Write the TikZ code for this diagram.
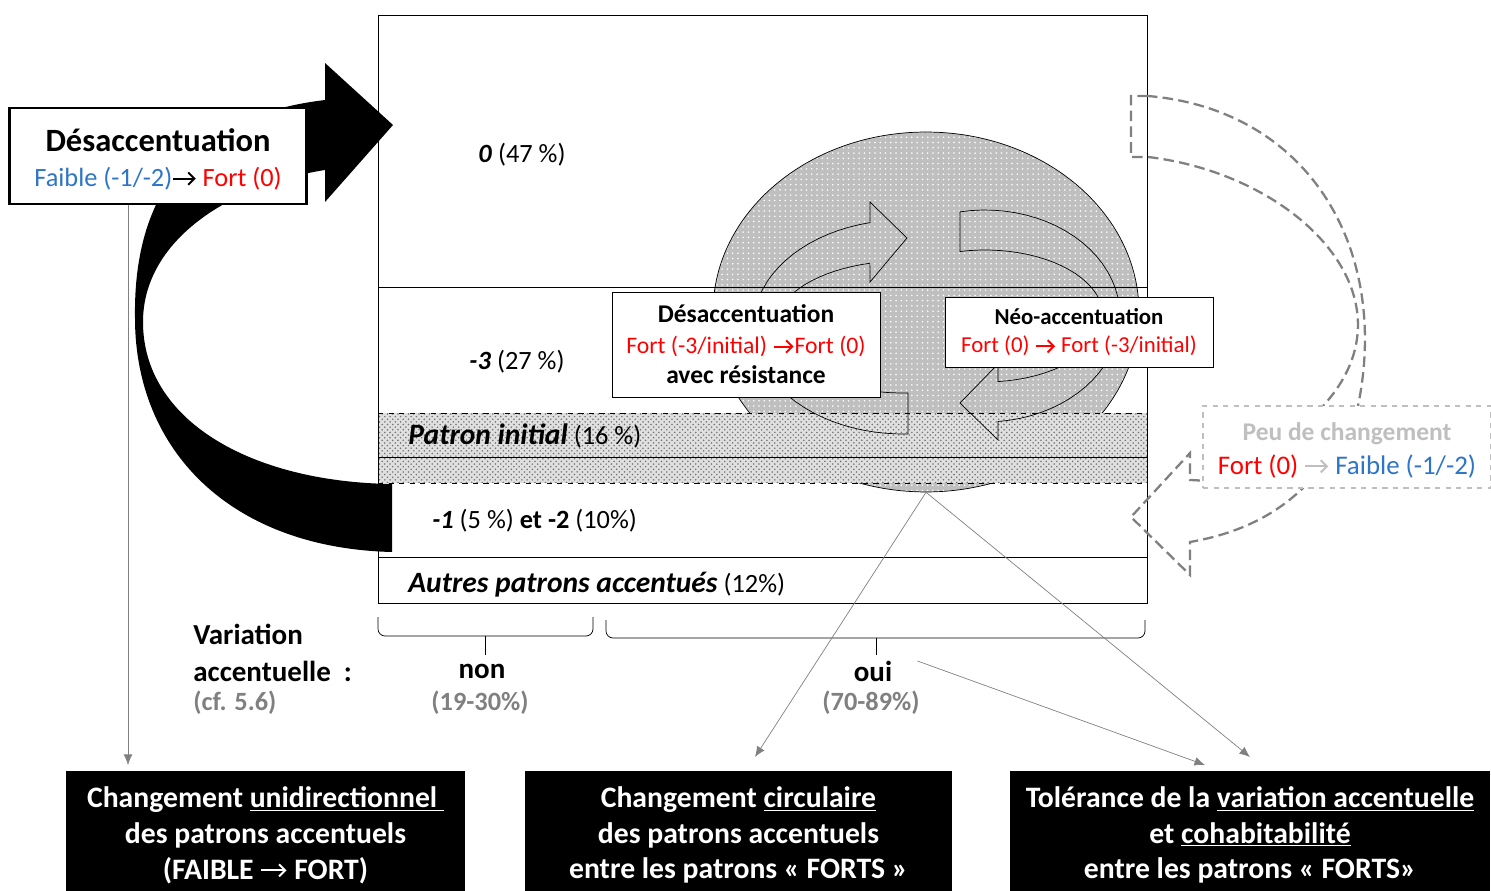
\documentclass[tikz,border=0pt]{standalone}
\usepackage{fontspec}
\setmainfont{Carlito}
\usetikzlibrary{shapes.geometric,patterns,arrows.meta}
\definecolor{bleu}{RGB}{46,117,200}
\definecolor{rouge}{RGB}{255,0,0}
\colorlet{gris}{black!50}
\colorlet{grisclair}{black!25}
\newcommand{\flch}{\tikz[baseline=-0.6ex]\draw[color=., line width=1.1pt, -{Straight Barb[length=3.5pt,width=7pt]}] (0,0) -- (0.85em,0);}
\tikzset{
  lbl/.style={font=\fontsize{15}{18}\selectfont, inner sep=0pt},
  boite/.style={draw, fill=white, align=center, inner sep=0pt},
  noire/.style={fill=black, text=white, align=center, inner sep=0pt, minimum height=2.56cm,
    font=\bfseries\fontsize{16.9}{20.4}\selectfont},
  lien/.style={draw=gris, thin, -{Latex[length=6pt,width=5pt]}},
  pointilles/.style={dash pattern=on 6pt off 3pt},
}

\begin{document}
\begin{tikzpicture}[x=0.02cm, y=-0.02cm]
\useasboundingbox (0,0) rectangle (1491,891);

% cercle et bande du patron initial
\node[ellipse, draw, preaction={fill=black!25}, pattern=dots, pattern color=white,
  minimum width=8.52cm, minimum height=7.2cm, inner sep=0pt] (cercle) at (926,312) {};
\fill[black!12] (378,413) rectangle (1147,483);
\fill[pattern=crosshatch dots, pattern color=black!55] (378,413) rectangle (1147,483);
\draw[dashed] (378,413) -- (1147,413);
\draw[dashed] (378,483) -- (1147,483);
\draw (378,457) -- (1147,457);

% cadre
\draw (378,15) rectangle (1147,603);
\draw (378,287) -- (1147,287);
\draw (378,557) -- (1147,557);

% fleches circulaires
\draw plot[domain=88.1:257.3, samples=40] ({903+150*cos(\x)},{327+107*sin(\x)})
  -- (870,202) -- (907,238) -- (870,282)
  -- plot[domain=255:87.8, samples=40] ({903+128*cos(\x)},{327+66*sin(\x)}) -- cycle;
\draw plot[domain=259.3:444.5, samples=40] ({985+135*cos(\x)},{316+106*sin(\x)})
  -- (998,440) -- (960,403) -- (998,364)
  -- plot[domain=443.7:257.8, samples=40] ({985+118*cos(\x)},{316+66*sin(\x)}) -- cycle;

% grande fleche noire
\fill (392,552) .. controls (230,548) and (135,450) .. (135,318)
  .. controls (133,185) and (200,115) .. (325,100) -- (325,63) -- (393,125) -- (325,202)
  -- (325,170) .. controls (230,185) and (143,240) .. (143,322)
  .. controls (143,420) and (250,482) .. (392,484) -- cycle;

\node[boite, line width=1.5pt, minimum width=5.94cm, minimum height=1.92cm,
  font=\fontsize{15}{20}\selectfont] (desL) at (158,156)
  {\\[-0.5ex]{\fontsize{18.5}{22}\selectfont\bfseries Désaccentuation}\\
   \textcolor{bleu}{Faible (-1/-2)}\flch\ \textcolor{rouge}{Fort (0)}};

% fleche en pointilles
\draw[gris, line width=1.3pt, pointilles] (1148,96) -- (1131,96) -- (1131,157) -- (1148,157)
  .. controls (1300,175) and (1420,300) .. (1323,406)
  .. controls (1310,440) and (1308,470) .. (1303,488)
  .. controls (1270,520) and (1230,535) .. (1190,542)
  -- (1190,575) -- (1131,517) -- (1190,453) -- (1190,480) -- (1210,481)
  .. controls (1300,470) and (1350,450) .. (1358,406)
  .. controls (1390,250) and (1310,110) .. (1148,96);
\node[boite, draw=grisclair, line width=1.2pt, dashed, minimum width=5.76cm, minimum height=1.64cm,
  font=\fontsize{15.3}{19}\selectfont] (peu) at (1347,447)
  {\\[-0.7ex]\textcolor{grisclair}{\bfseries\fontsize{14.5}{19}\selectfont Peu de changement}\\
   \textcolor{rouge}{Fort (0)} \textcolor{grisclair}{\flch} \textcolor{bleu}{Faible (-1/-2)}};

% boites du cercle
\node[boite, minimum width=5.36cm, minimum height=2.1cm, font=\fontsize{13.5}{17.3}\selectfont]
  (desC) at (746,344.5)
  {{\bfseries\fontsize{14.5}{17.3}\selectfont Désaccentuation}\\
   \textcolor{rouge}{Fort (-3/initial) \flch Fort (0)}\\
   {\bfseries\fontsize{14.5}{17.3}\selectfont avec résistance}};
\node[boite, minimum width=5.36cm, minimum height=1.4cm, font=\fontsize{13}{16.4}\selectfont]
  (neo) at (1079,332)
  {{\bfseries Néo-accentuation}\\
   \textcolor{rouge}{Fort (0) \flch\ Fort (-3/initial)}};

% etiquettes du cadre
\node[lbl] (zero) at (522,155) {\textbf{\textit{0}} (47~\%)};
\node[lbl] (moinstrois) at (517,362) {\textbf{\textit{-3}} (27~\%)};
\node[lbl, anchor=west] (patron) at (408,436)
  {\textbf{\textit{\fontsize{16.8}{18}\selectfont Patron initial}} (16~\%)};
\node[lbl, anchor=west] (moinsun) at (432,521) {\textbf{\textit{-1}} (5~\%) \textbf{et -2} (10\%)};
\node[lbl, anchor=west] (autres) at (408,585)
  {\textbf{\textit{\fontsize{16.8}{18}\selectfont Autres patrons accentués}} (12\%)};

% accolades
\draw[rounded corners=4] (378,617) |- (485,636) -| (593,617);
\draw (485,636) -- (485,655);
\draw[rounded corners=4] (606,620) |- (876,638) -| (1145,620);
\draw (876,638) -- (876,655);

\node[lbl, anchor=west, font=\bfseries\fontsize{16.5}{20}\selectfont] (varA) at (193,634) {Variation};
\node[lbl, anchor=west, font=\bfseries\fontsize{16.5}{20}\selectfont] (varB) at (193,671) {accentuelle\ \ :};
\node[lbl, anchor=west, text=gris, font=\bfseries\fontsize{15}{18}\selectfont] (varC) at (193,703) {(cf. 5.6)};
\node[lbl, font=\bfseries\fontsize{16.5}{20}\selectfont] (non) at (482,671) {non};
\node[lbl, text=gris, font=\bfseries\fontsize{15}{18}\selectfont] (nonpc) at (480,703) {(19-30\%)};
\node[lbl, font=\bfseries\fontsize{16.5}{20}\selectfont] (oui) at (873,671) {oui};
\node[lbl, text=gris, font=\bfseries\fontsize{15}{18}\selectfont] (ouipc) at (871,703) {(70-89\%)};

% boites noires
\node[noire, minimum width=7.98cm] (uni) at (265.5,835)
  {Changement \underline{unidirectionnel\ }\\ des patrons accentuels\\ (FAIBLE \flch\ FORT)};
\node[noire, minimum width=8.54cm] (circ) at (738.5,835)
  {Changement \underline{circulaire}\\ des patrons accentuels\\ entre les patrons « FORTS »};
\node[noire, minimum width=9.6cm] (tol) at (1250,835)
  {Tolérance de la \underline{variation accentuelle}\\ et \underline{cohabitabilité}\\ entre les patrons « FORTS»};

% liens
\coordinate (bout1) at (128,765);
\coordinate (bout2) at (755,757);
\coordinate (bout3) at (1250,757);
\coordinate (bout4) at (1205,765);
\draw[lien] (desL.south -| bout1) -- (bout1);
\draw[lien] (cercle.south) -- (bout2);
\draw[lien] (cercle.south) -- (bout3);
\draw[lien] ([xshift=0.5cm, yshift=0.2cm]oui.east) -- (bout4);

\end{tikzpicture}
\end{document}
